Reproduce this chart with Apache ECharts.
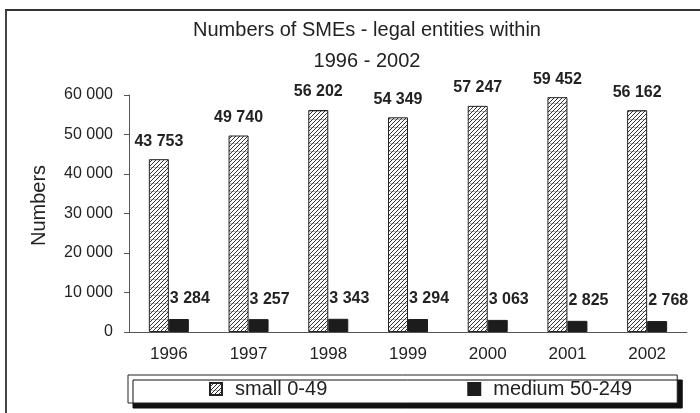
<!DOCTYPE html>
<html>
<head>
<meta charset="utf-8">
<script src="https://cdn.jsdelivr.net/npm/echarts@6/dist/echarts.min.js"></script>
<style>html,body{margin:0;padding:0;background:#fff;}#c{width:700px;height:413px;}</style>
</head>
<body>
<div id="c"></div>
<script>
const years = ['1996', '1997', '1998', '1999', '2000', '2001', '2002'];
const smallValues = [43753, 49740, 56202, 54349, 57247, 59452, 56162];
const mediumValues = [3284, 3257, 3343, 3294, 3063, 2825, 2768];
const seriesNames = ['small 0-49', 'medium 50-249'];
const titleText = 'Numbers of SMEs - legal entities within\n1996 - 2002';
const yAxisTitle = 'Numbers';

function fmt(v) { return String(v).replace(/\B(?=(\d{3})+(?!\d))/g, ' '); }

function hatch() {
  const c = document.createElement('canvas');
  c.width = 8; c.height = 8;
  const g = c.getContext('2d');
  g.fillStyle = '#fff'; g.fillRect(0, 0, 8, 8);
  g.strokeStyle = '#bbb'; g.lineWidth = 1;
  g.beginPath(); g.moveTo(0, 7.5); g.lineTo(8, 7.5); g.stroke();
  g.strokeStyle = '#333'; g.lineWidth = 1;
  g.beginPath();
  for (let k = -8; k <= 16; k += 4) { g.moveTo(k, 8); g.lineTo(k + 8, 0); }
  g.stroke();
  return c;
}

const FF = "'Liberation Sans', Arial, sans-serif";
const chart = echarts.init(document.getElementById('c'), null, { renderer: 'canvas' });
chart.setOption({
  animation: false,
  backgroundColor: '#fff',
  textStyle: { fontFamily: FF },
  title: {
    text: titleText, left: 362, top: 10, textAlign: 'center',
    textStyle: { fontSize: 20, fontWeight: 'normal', color: '#222', lineHeight: 31, fontFamily: FF }
  },
  graphic: [
    { type: 'line', shape: { x1: 6, y1: 9, x2: 6, y2: 413 }, style: { stroke: '#444', lineWidth: 2 } },
    { type: 'line', shape: { x1: 5, y1: 10, x2: 700, y2: 10 }, style: { stroke: '#333', lineWidth: 2 } }
  ],
  legend: {
    left: 128, top: 375,
    padding: [4, 45, 4, 81],
    itemGap: 140, itemWidth: 12, itemHeight: 12, icon: 'rect',
    backgroundColor: '#fff', borderColor: '#222', borderWidth: 1,
    shadowColor: '#111', shadowOffsetX: 5, shadowOffsetY: 5, shadowBlur: 0,
    textStyle: { fontSize: 20, color: '#222', padding: [0, 0, 0, 8], fontFamily: FF },
    data: seriesNames
  },
  grid: { left: 129, right: 13, top: 95, bottom: 81 },
  xAxis: {
    type: 'category', data: years,
    axisLine: { lineStyle: { color: '#555', width: 1 } },
    axisTick: { length: 5, lineStyle: { color: '#555' } },
    axisLabel: { fontSize: 17, color: '#222', margin: 14, fontFamily: FF }
  },
  yAxis: {
    type: 'value', min: 0, max: 60000, interval: 10000,
    name: yAxisTitle, nameLocation: 'middle', nameRotate: 90, nameGap: 80,
    nameTextStyle: { fontSize: 20, color: '#222', fontFamily: FF, padding: [0, 0, 0, 16] },
    axisLine: { show: true, lineStyle: { color: '#555', width: 1 } },
    axisTick: { show: true, length: 5, lineStyle: { color: '#555' } },
    splitLine: { show: false },
    axisLabel: { fontSize: 16, color: '#222', margin: 16, formatter: fmt, fontFamily: FF }
  },
  series: [
    {
      name: seriesNames[0], type: 'bar', data: smallValues, barWidth: 20, barGap: '0%',
      itemStyle: { color: { image: hatch(), repeat: 'repeat' }, borderColor: '#222', borderWidth: 1 },
      label: { show: true, position: 'top', distance: 10, fontSize: 16, fontWeight: 'bold', color: '#222', formatter: p => fmt(p.value), fontFamily: FF }
    },
    {
      name: seriesNames[1], type: 'bar', data: mediumValues, barWidth: 20,
      itemStyle: { color: '#1c1c1c', borderColor: '#1c1c1c', borderWidth: 1 },
      label: { show: true, position: 'top', distance: 12, align: 'left', offset: [-9, 0], fontSize: 16, fontWeight: 'bold', color: '#222', formatter: p => fmt(p.value), fontFamily: FF }
    }
  ]
});
</script>
</body>
</html>
